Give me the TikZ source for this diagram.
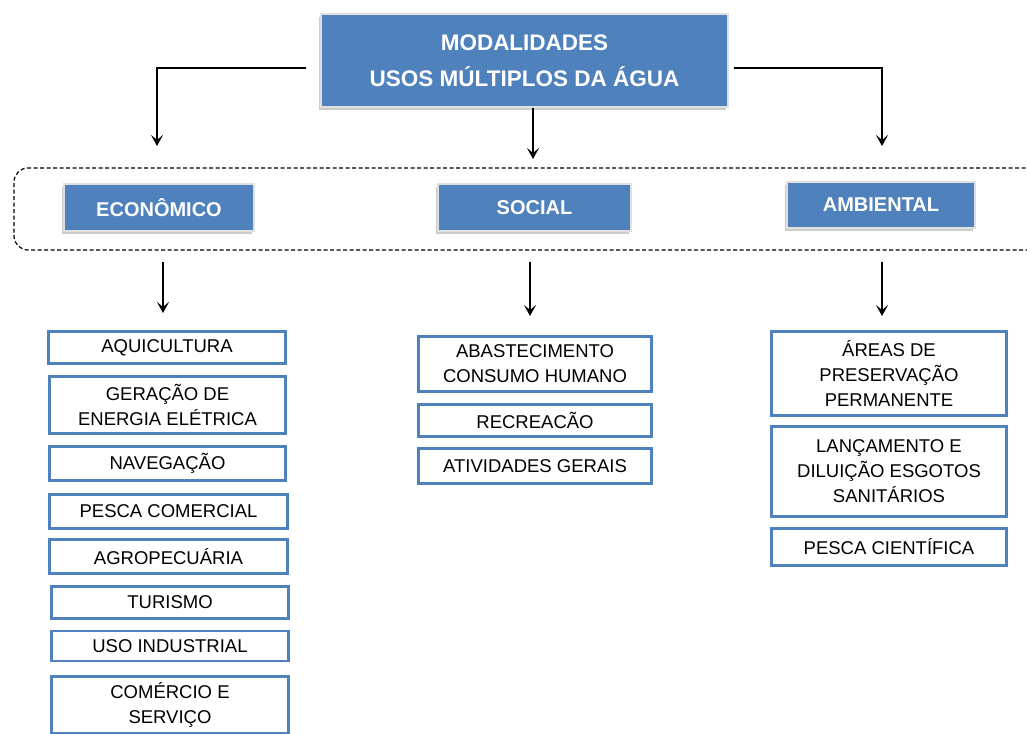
\documentclass[tikz,border=0pt]{standalone}
\usepackage{fontspec}
\setmainfont{Liberation Sans}
\usetikzlibrary{shadows,arrows.meta}
\definecolor{boxblue}{RGB}{79,129,189}

\begin{document}
\begin{tikzpicture}[x=1pt,y=1pt,yscale=-1,xscale=1,
  headbox/.style={draw=black!12, line width=2pt, fill=boxblue, text=white,
    font=\bfseries\fontsize{20}{24}\selectfont, align=center,
    drop shadow={shadow xshift=-2pt, shadow yshift=-3pt, fill=black!25, opacity=0.8}},
  itembox/.style={draw=boxblue, line width=2.6pt, fill=white, align=center,
    font=\fontsize{18.5}{25}\selectfont, inner sep=0pt},
  arr/.style={-{Stealth[length=11pt,width=12pt,inset=5pt]}, line width=1.8pt}]
\path[use as bounding box] (0,0) rectangle (1027,733);

% Title
\node[headbox, minimum width=407, minimum height=93, font=\bfseries\fontsize{22.5}{36}\selectfont] (title) at (524.5,60.5) {MODALIDADES\\USOS MÚLTIPLOS DA ÁGUA};

% Dashed group
\draw[dash pattern=on 4pt off 2.5pt, line width=1.2pt, rounded corners=14] (1045,168) -- (14,168) -- (14,250) -- (1045,250);

% Group heads
\node[headbox, minimum width=190, minimum height=47] (eco) at (159,207.5) {ECONÔMICO};
\node[headbox, minimum width=193, minimum height=47] (soc) at (534.5,207.5) {SOCIAL};
\node[headbox, minimum width=188, minimum height=46] (amb) at (881,205) {AMBIENTAL};

% Title connectors
\coordinate (tl) at (306,68);
\coordinate (tlc) at (157,68);
\coordinate (tle) at (157,146);
\coordinate (tr) at (734,68);
\coordinate (trc) at (882,68);
\coordinate (tre) at (882,146);
\coordinate (tce) at (533,159);
\draw[arr] (tl) -- (tlc) -- (tle);
\draw[arr] (tr) -- (trc) -- (tre);
\draw[arr] (title.south -| tce) -- (tce);

% Economic items
\node[itembox, minimum width=237, minimum height=32] (aqui) at (167,347.5) {AQUICULTURA};
\node[itembox, minimum width=236, minimum height=57] (gera) at (167.5,405) {GERAÇÃO DE\\ENERGIA ELÉTRICA};
\node[itembox, minimum width=236, minimum height=34] (nave) at (167.5,463.5) {NAVEGAÇÃO};
\node[itembox, minimum width=238, minimum height=34] (pesc) at (168.5,511.5) {PESCA COMERCIAL};
\node[itembox, minimum width=238, minimum height=34] (agro) at (168.5,556.5) {AGROPECUÁRIA};
\node[itembox, minimum width=237, minimum height=32] (turi) at (170,602.5) {TURISMO};
\node[itembox, minimum width=237, minimum height=30] (usoi) at (170,646) {USO INDUSTRIAL};
\node[itembox, minimum width=237, minimum height=57] (come) at (170,705) {COMÉRCIO E\\SERVIÇO};

% Social items
\node[itembox, minimum width=233, minimum height=55] (abas) at (535,364) {ABASTECIMENTO\\CONSUMO HUMANO};
\node[itembox, minimum width=233, minimum height=32] (recr) at (535,420.5) {RECREACÃO};
\node[itembox, minimum width=233, minimum height=35] (ativ) at (535,466) {ATIVIDADES GERAIS};

% Environmental items
\node[itembox, minimum width=235, minimum height=84] (area) at (889,373.5) {ÁREAS DE\\PRESERVAÇÃO\\PERMANENTE};
\node[itembox, minimum width=235, minimum height=90] (lanc) at (889,471.5) {LANÇAMENTO E\\DILUIÇÃO ESGOTOS\\SANITÁRIOS};
\node[itembox, minimum width=235, minimum height=37] (pcie) at (889,547) {PESCA CIENTÍFICA};

% Group connectors
\coordinate (es) at (163,262);
\coordinate (ee) at (163,313);
\coordinate (ss) at (530,262);
\coordinate (se) at (530,316);
\coordinate (as) at (882,262);
\coordinate (ae) at (882,316);
\draw[arr] (es) -- (ee);
\draw[arr] (ss) -- (se);
\draw[arr] (as) -- (ae);

\end{tikzpicture}
\end{document}
